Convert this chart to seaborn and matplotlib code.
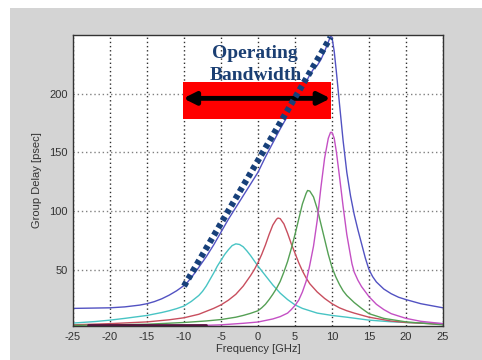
import numpy as np
import pandas as pd
import matplotlib
matplotlib.use("Agg")
import matplotlib.pyplot as plt
from matplotlib.patches import Rectangle
import seaborn as sns

# ---- data ----
blue_x = [-25, -20, -18, -16, -15, -14, -13, -12, -11, -10, -9.5, -9, -8.5, -8, -7, -6, -5, -4, -3, -2, -1,
          0, 1, 2, 3, 4, 5, 6, 7, 7.5, 8, 8.5, 9, 9.5, 9.8, 10, 10.3, 10.6, 11, 11.5, 12, 12.5, 13,
          13.5, 14, 14.5, 15, 15.5, 16, 17, 18, 19, 20, 22, 25]
blue_v = [17, 17.5, 18.3, 19.8, 21, 22.8, 25.2, 28.3, 32, 36.5, 39.5, 43.5, 47.5, 52, 61, 71, 82, 93, 103, 113, 123,
          133, 146, 158, 170, 181, 192, 204, 216, 221, 224, 229, 236, 244, 249, 248, 236, 218, 192, 160, 133, 113, 97,
          84, 72, 60, 50, 44, 39.5, 33.5, 29.5, 26.5, 24.5, 21, 17.5]

cyan_x = [-25, -22, -20, -18, -15, -13, -12, -11, -10, -9, -8, -7.5, -7, -6.5, -6, -5.5, -5, -4.5, -4, -3.5,
          -3, -2.5, -2, -1.5, -1, -0.5, 0, 0.5, 1, 1.5, 2, 2.5, 3, 4, 5, 6, 7, 8, 10, 12, 15, 18, 20, 25]
cyan_v = [4.5, 5.8, 7, 8.5, 11, 13.5, 15, 16.8, 19, 23, 28, 31.5, 36, 41.5, 47, 53, 58, 63, 67, 70.5,
          72, 71.5, 69.5, 66, 62, 57.5, 53, 49, 45, 41, 37, 33.5, 30, 24.5, 20, 17, 15, 13, 11, 9.5, 7, 5.6, 5, 4]

red_x = [-25, -20, -15, -12, -10, -8, -7, -6, -5, -4, -3, -2, -1, -0.5, 0, 0.5, 1, 1.5, 2, 2.5, 2.7, 3,
         3.5, 4, 4.5, 5, 5.5, 6, 6.5, 7, 8, 9, 10, 11, 12, 13, 15, 18, 20, 25]
red_v = [3, 4, 5.5, 7.3, 9, 12, 14.5, 17, 20, 24, 29, 36, 45, 50, 56, 63, 71, 80, 88, 93, 94, 93.5,
         89, 81, 72, 64, 56, 49, 43, 38, 31, 25.5, 21, 17.5, 15, 13, 9.5, 6.2, 5, 3.5]

green_x = [-25, -20, -15, -10, -7, -5, -3, -2, -1, 0, 0.5, 1, 1.5, 2, 2.5, 3, 3.5, 4, 4.5, 5, 5.5, 6,
           6.5, 6.7, 7, 7.5, 8, 8.5, 9, 9.5, 10, 10.5, 11, 11.5, 12, 13, 14, 15, 17, 20, 25]
green_v = [2.5, 3, 3.5, 5, 6.3, 7.5, 9.5, 11, 12.8, 15, 17.5, 20.5, 24.5, 29, 34, 40, 48, 57, 68, 80, 93, 106,
           115, 117.5, 117, 112, 102, 89, 76, 63, 52, 44, 37.5, 32, 28, 22, 17, 12.5, 8.5, 5.5, 3]

mag_x = [-25, -15, -10, -5, -2, 0, 2, 3, 4, 4.5, 5, 5.5, 6, 6.5, 6.8, 7, 7.5, 8, 8.5, 9, 9.5, 9.8, 10,
         10.3, 10.6, 11, 11.5, 12, 12.5, 12.7, 13, 13.5, 14, 15, 16, 17, 18, 20, 22, 25]
mag_v = [1, 1.5, 2, 3, 4.3, 5.4, 8, 10, 13, 16, 19.5, 24, 31, 40, 48, 54, 70, 92, 120, 145, 162, 167, 167,
         162, 150, 130, 104, 80, 62, 55, 48, 41, 35.5, 27, 20.5, 16, 12.5, 8.5, 6, 4]

dark_x = [-23, -15, -7]
dark_v = [2.6, 2.6, 2.6]

band_x = [-10, 9.8]
band_y = [36, 248]

x_ticks = [-25, -20, -15, -10, -5, 0, 5, 10, 15, 20, 25]
y_ticks = [50, 100, 150, 200]

# ---- build table ----
series = {
    "blue": (blue_x, blue_v),
    "cyan": (cyan_x, cyan_v),
    "red": (red_x, red_v),
    "green": (green_x, green_v),
    "magenta": (mag_x, mag_v),
    "dark": (dark_x, dark_v),
}
rows = []
for name, (xs, vs) in series.items():
    for x, v in zip(xs, vs):
        rows.append((name, x, v))
df = pd.DataFrame(rows, columns=["series", "freq", "delay"])
palette = {"blue": "#5252C2", "cyan": "#48C4C4", "red": "#C84E5E", "green": "#55A055",
           "magenta": "#C450C4", "dark": "#5A1040"}

sns.set_style("white")
plt.rcParams["font.family"] = ["Liberation Sans", "DejaVu Sans"]

fig = plt.figure(figsize=(4.82, 3.60), dpi=100, facecolor="white")
fig.patches.append(Rectangle((10 / 482, 0), 1, 1 - 8 / 360, transform=fig.transFigure,
                             facecolor="#D4D4D4", edgecolor="none", zorder=-10))
ax = fig.add_axes([73 / 482, 1 - 326 / 360, 370 / 482, 291 / 360])
ax.set_facecolor("white")

sns.lineplot(data=df, x="freq", y="delay", hue="series", palette=palette, sort=False,
             estimator=None, legend=False, linewidth=1.0, ax=ax, zorder=2)
for line in ax.get_lines():
    if matplotlib.colors.to_hex(line.get_color()).lower() == "#5a1040":
        line.set_linewidth(2.0)

ax.set_xlim(-25, 25)
ax.set_ylim(2, 250)
ax.set_xticks(x_ticks)
ax.set_xticklabels([str(t) for t in x_ticks])
ax.set_yticks(y_ticks)
ax.set_xlabel("Frequency [GHz]", fontsize=8, color="#333333", labelpad=2)
ax.set_ylabel("Group Delay [psec]", fontsize=8, color="#333333", labelpad=5)
ax.tick_params(direction="in", length=3, labelsize=8, labelcolor="#333333", color="#333333", pad=4)

ax.xaxis.grid(True, linestyle=(0, (1, 2)), color="#303030", linewidth=1)
ax.yaxis.grid(True, linestyle=(0, (1, 2)), color="#808080", linewidth=1)
ax.set_axisbelow(True)
for s in ax.spines.values():
    s.set_color("#333333")
    s.set_linewidth(1)
    s.set_visible(True)

# red band + arrow
ax.add_patch(Rectangle((-10.1, 178.6), 19.9, 31.4, facecolor="#FF0000", edgecolor="none", zorder=3))
ax.annotate("", xy=(9.8, 196), xytext=(-10.1, 196),
            arrowprops=dict(arrowstyle="<|-|>", lw=3.5, color="black", mutation_scale=18,
                            shrinkA=0, shrinkB=0), zorder=4)

# dotted bandwidth line
sns.lineplot(x=band_x, y=band_y, color="#17407A", linewidth=4.5, linestyle=(0, (0.75, 0.6)),
             ax=ax, zorder=5)

ax.text(-0.4, 230.3, "Operating", ha="center", va="baseline", fontsize=14, fontweight="bold",
        color="#1B3F73", family=["Liberation Serif", "DejaVu Serif"], zorder=6)
ax.text(-0.3, 211.8, "Bandwidth", ha="center", va="baseline", fontsize=14, fontweight="bold",
        color="#1B3F73", family=["Liberation Serif", "DejaVu Serif"], zorder=6)

fig.savefig("out.png", dpi=100, facecolor=fig.get_facecolor())
